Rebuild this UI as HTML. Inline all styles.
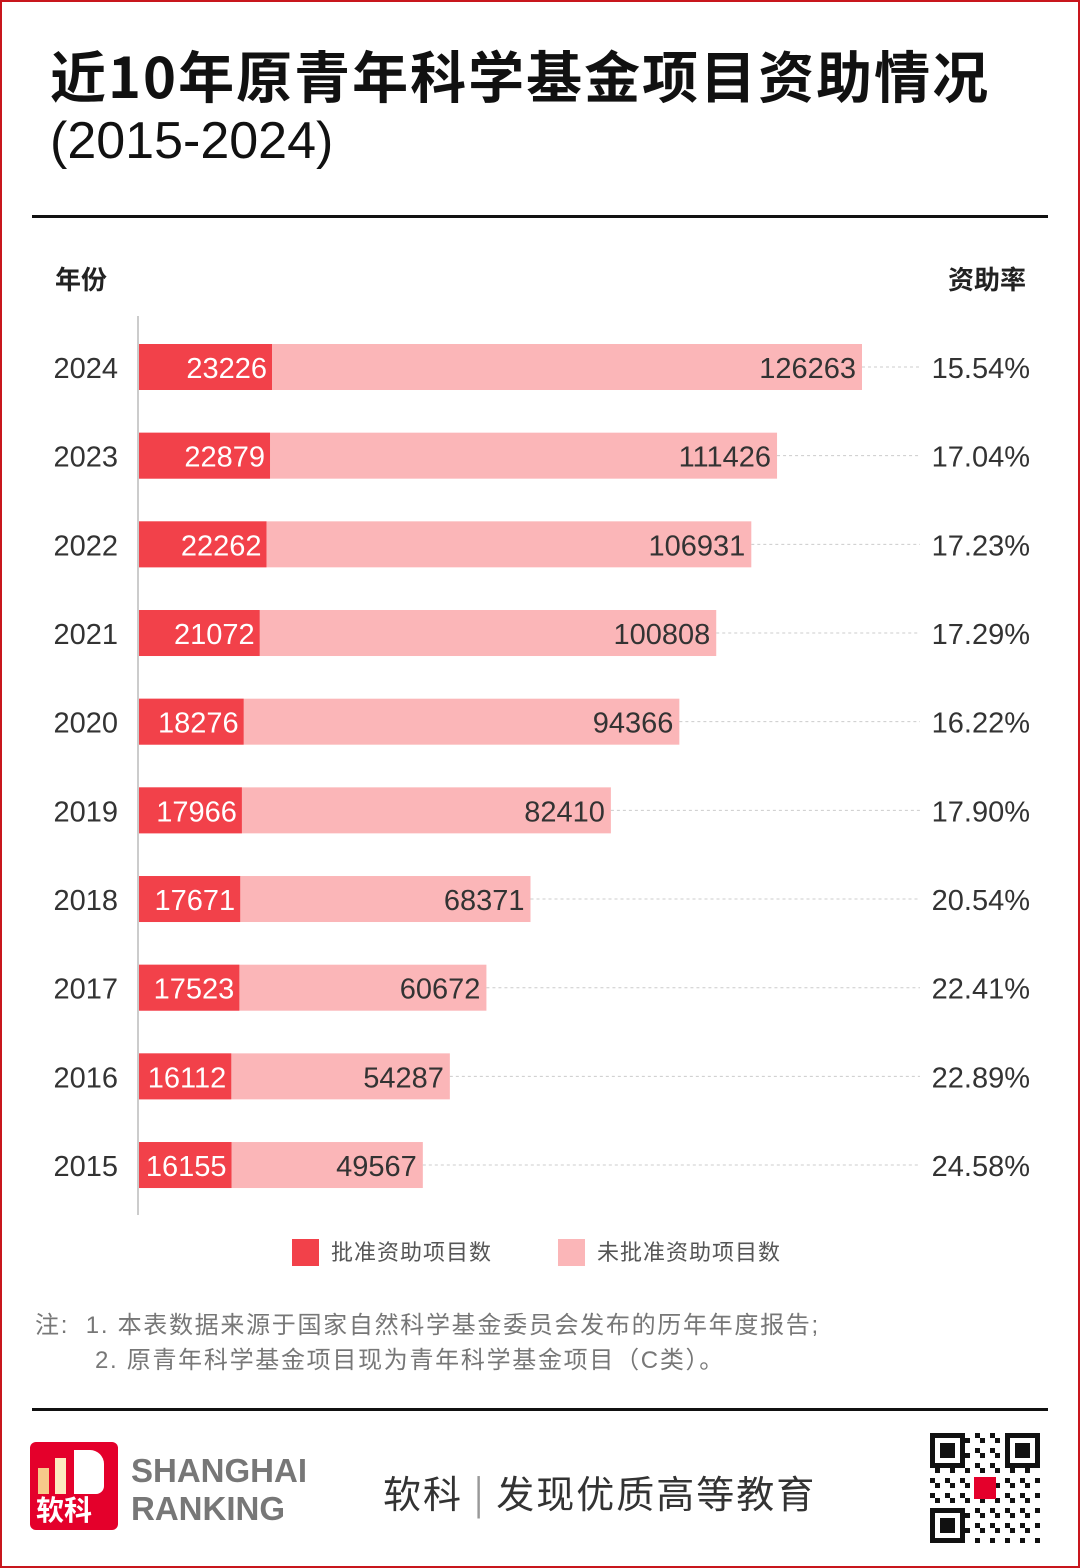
<!DOCTYPE html>
<html><head><meta charset="utf-8"><style>
body{margin:0;width:1080px;height:1568px;background:#fff;font-family:"Liberation Sans","Noto Sans CJK SC",sans-serif;position:relative;overflow:hidden}
.abs{position:absolute}
#frame{position:absolute;left:0;top:0;width:1076px;height:1564px;border:2px solid #c8161d}
</style></head><body>
<div id="frame"></div>
<div class="abs" style="left:50px;top:40px;font-size:56px;letter-spacing:2px;font-weight:bold;color:#111;line-height:70px;font-family:'Noto Sans CJK SC',sans-serif">近10年原青年科学基金项目资助情况</div>
<div class="abs" style="left:50px;top:106px;font-size:52px;color:#111;line-height:70px">(2015-2024)</div>
<div class="abs" style="left:32px;top:215px;width:1016px;height:3px;background:#111"></div>
<div class="abs" style="left:55px;top:260px;font-size:26px;font-weight:bold;color:#222;font-family:'Noto Sans CJK SC',sans-serif">年份</div>
<div class="abs" style="right:54px;top:260px;font-size:26px;font-weight:bold;color:#222;font-family:'Noto Sans CJK SC',sans-serif">资助率</div>
<svg class="abs" style="left:0;top:0" width="1080" height="1568" id="chart"></svg>
<div class="abs" style="left:292px;top:1239px;font-size:22px;letter-spacing:1px;color:#555;line-height:28px"><span style="display:inline-block;width:27px;height:27px;background:#f2414a;vertical-align:top;margin-right:12px"></span>批准资助项目数</div>
<div class="abs" style="left:558px;top:1239px;font-size:22px;letter-spacing:1px;color:#555;line-height:28px"><span style="display:inline-block;width:27px;height:27px;background:#fbb6b8;vertical-align:top;margin-right:12px"></span>未批准资助项目数</div>
<div class="abs" style="left:35px;top:1311px;font-size:24px;letter-spacing:1.7px;color:#777;line-height:30px">注:&nbsp;&nbsp;1. 本表数据来源于国家自然科学基金委员会发布的历年年度报告;</div>
<div class="abs" style="left:95px;top:1346px;font-size:24px;letter-spacing:1.7px;color:#777;line-height:30px">2. 原青年科学基金项目现为青年科学基金项目（C类）。</div>
<div class="abs" style="left:32px;top:1408px;width:1016px;height:3px;background:#111"></div>
<div class="abs" style="left:30px;top:1442px;width:88px;height:88px;background:#e4002b;border-radius:6px">
<div class="abs" style="left:8px;top:26px;width:11px;height:26px;background:#f7c98a"></div>
<div class="abs" style="left:25px;top:16px;width:11px;height:36px;background:#fde9c0"></div>
<div class="abs" style="left:44px;top:8px;width:30px;height:44px;background:#fff;border-radius:0 14px 8px 0"></div>
<div class="abs" style="left:6px;top:52px;font-size:28px;font-weight:bold;color:#fff;line-height:30px;font-family:'Noto Sans CJK SC',sans-serif">软科</div></div>
<div class="abs" style="left:131px;top:1452px;font-size:33px;font-weight:bold;color:#777;line-height:38px">SHANGHAI<br>RANKING</div>
<div class="abs" style="left:383px;top:1464px;font-size:38px;letter-spacing:2px;color:#333;font-family:'Noto Sans CJK SC',sans-serif">软科 <span style="color:#999">|</span> 发现优质高等教育</div>
<svg class="abs" style="left:930px;top:1433px" width="110" height="110" id="qr"></svg>
<script>
const years=["2024","2023","2022","2021","2020","2019","2018","2017","2016","2015"];
const approved=[23226,22879,22262,21072,18276,17966,17671,17523,16112,16155];
const totals=[126263,111426,106931,100808,94366,82410,68371,60672,54287,49567];
const rates=["15.54%","17.04%","17.23%","17.29%","16.22%","17.90%","20.54%","22.41%","22.89%","24.58%"];
const NS="http://www.w3.org/2000/svg";
const svg=document.getElementById('chart');
const x0=139,xs=v=>x0+v*(723/126263);
const yc=i=>367+i*88.67;
function mk(t,a){const e=document.createElementNS(NS,t);for(const k in a)e.setAttribute(k,a[k]);svg.appendChild(e);return e;}
const ax=mk('line',{x1:138,y1:316,x2:138,y2:1215,stroke:'#bbb','stroke-width':1.5});


years.forEach((y,i)=>{
 const c=yc(i);
 const dl=mk('line',{x1:xs(totals[i]),y1:c,x2:920,y2:c,stroke:'#ccc','stroke-dasharray':'3,3'});
 
 
 const b=mk('rect',{x:x0,y:c-23,width:xs(totals[i])-x0,height:46,fill:'#fbb6b8'});
 
 
 const a=mk('rect',{x:x0,y:c-23,width:xs(approved[i])-x0,height:46,fill:'#f2414a'});
 
 
 const ty=mk('text',{x:118,y:c+11,'text-anchor':'end','font-size':29,fill:'#333'});ty.textContent=y;
 
 
 const ta=mk('text',{x:xs(approved[i])-5,y:c+11,'text-anchor':'end','font-size':29,fill:'#fff'});ta.textContent=approved[i];
 
 
 const tt=mk('text',{x:xs(totals[i])-6,y:c+11,'text-anchor':'end','font-size':29,fill:'#333'});tt.textContent=totals[i];
 
 
 const tr=mk('text',{x:1030,y:c+11,'text-anchor':'end','font-size':29,fill:'#333'});tr.textContent=rates[i];
 
 
});
const q=document.getElementById('qr');
for(let r=0;r<22;r++)for(let c=0;c<22;c++){
 const f=(r<7&&c<7)||(r<7&&c>14)||(r>14&&c<7);
 let on;
 if(f){const rr=r>14?r-15:r,cc=c>14?c-15:c;on=(rr==0||rr==6||cc==0||cc==6)||(rr>=2&&rr<=4&&cc>=2&&cc<=4);}
 else on=((r*7+c*13+r*c)%3)==0;
 if(on){const e=document.createElementNS(NS,'rect');e.setAttribute('x',c*5);e.setAttribute('y',r*5);e.setAttribute('width',5);e.setAttribute('height',5);e.setAttribute('fill','#111');q.appendChild(e);}
}
const lg=document.createElementNS(NS,'rect');lg.setAttribute('x',44);lg.setAttribute('y',44);lg.setAttribute('width',22);lg.setAttribute('height',22);lg.setAttribute('fill','#e4002b');q.appendChild(lg);
</script>
</body></html>
